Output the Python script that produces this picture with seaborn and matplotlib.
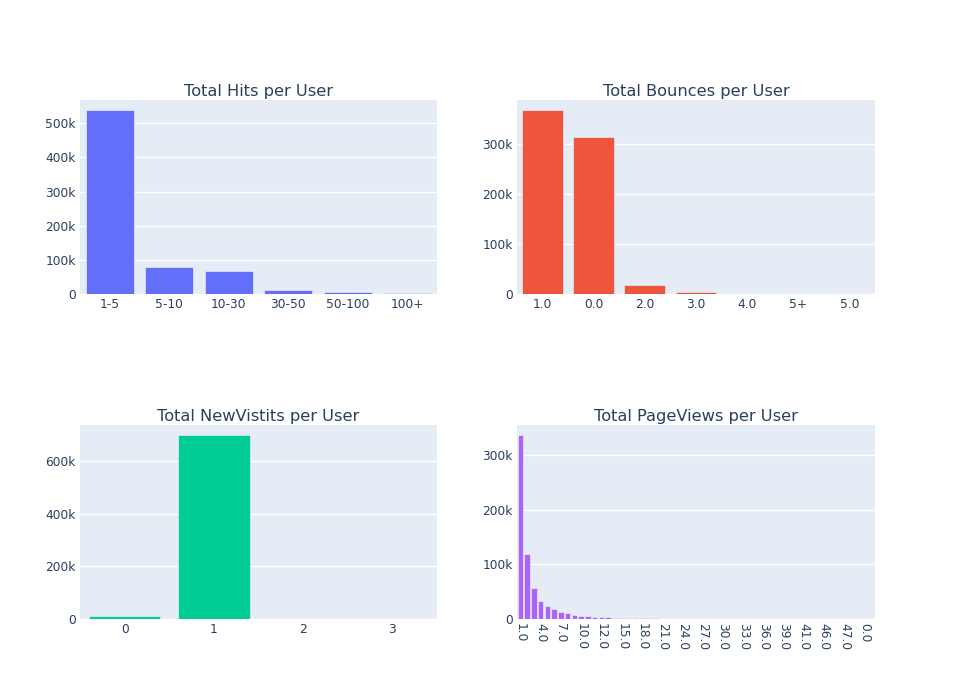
import numpy as np
import pandas as pd
import matplotlib
matplotlib.use("Agg")
import matplotlib.pyplot as plt
import seaborn as sns
from matplotlib.ticker import FuncFormatter

# ---- data ----
hits_cats = ["1-5", "5-10", "10-30", "30-50", "50-100", "100+"]
hits_vals = [539000, 78000, 66000, 11700, 6500, 1500]

bounce_cats = ["1.0", "0.0", "2.0", "3.0", "4.0", "5+", "5.0"]
bounce_vals = [368500, 315000, 19000, 3300, 600, 300, 200]

newvis_cats = ["0", "1", "2", "3"]
newvis_vals = [10000, 700000, 900, 100]

pv_cats = ["1.0", "2.0", "3.0", "4.0", "5.0", "6.0", "7.0", "8.0", "9.0", "10.0",
           "11.0", "13.0", "12.0", "14.0", "16.0", "15.0", "17.0", "19.0", "18.0", "20.0",
           "22.0", "21.0", "23.0", "25.0", "24.0", "26.0", "28.0", "27.0", "29.0", "31.0",
           "30.0", "32.0", "34.0", "33.0", "35.0", "37.0", "36.0", "38.0", "40.0", "39.0",
           "42.0", "43.0", "41.0", "44.0", "45.0", "46.0", "48.0", "49.0", "47.0", "50.0",
           "55.0", "0.0", "100.0"]
pv_vals = [337000, 118500, 56000, 33000, 24000, 17700, 13400, 10400, 7900, 6000,
           4900, 4200, 3600, 3000, 2600, 2200, 1900, 1600, 1400, 1200,
           1050, 900, 800, 700, 620, 550, 480, 420, 370, 330,
           290, 260, 230, 200, 180, 160, 140, 125, 110, 100,
           90, 80, 70, 62, 55, 48, 42, 37, 33, 29,
           25, 22, 18]

titles = ["Total Hits per User", "Total Bounces per User",
          "Total NewVistits per User", "Total PageViews per User"]
colors = ["#636EFA", "#EF553B", "#00CC96", "#AB63FA"]

plt.rcParams["font.family"] = ["DejaVu Sans"]
TXT = "#2a3f5f"
BG = "#E5ECF6"

W, H = 954, 700
fig = plt.figure(figsize=(W / 100, H / 100), dpi=100)
fig.patch.set_facecolor("white")

def frac_axes(x0, y0, x1, y1):
    return fig.add_axes([x0 / W, 1 - y1 / H, (x1 - x0) / W, (y1 - y0) / H])

boxes = [(80, 100, 437, 294), (517, 100, 875, 294),
         (80, 425, 437, 619), (517, 425, 875, 619)]
datasets = [(hits_cats, hits_vals, [0, 100000, 200000, 300000, 400000, 500000]),
            (bounce_cats, bounce_vals, [0, 100000, 200000, 300000]),
            (newvis_cats, newvis_vals, [0, 200000, 400000, 600000]),
            (pv_cats, pv_vals, [0, 100000, 200000, 300000])]

fmt = FuncFormatter(lambda v, p: "0" if v == 0 else f"{int(round(v / 1000))}k")

for i, (box, (cats, vals, yt)) in enumerate(zip(boxes, datasets)):
    ax = frac_axes(*box)
    ax.set_facecolor(BG)
    df = pd.DataFrame({"cat": cats, "val": vals})
    sns.barplot(data=df, x="cat", y="val", order=cats, ax=ax, color=colors[i],
                saturation=1, width=0.8, edgecolor=BG, linewidth=0.5)
    ax.set_xlim(-0.5, len(cats) - 0.5)
    ax.set_ylim(0, max(vals) * 1.054)
    ax.set_yticks(yt)
    ax.yaxis.set_major_formatter(fmt)
    ax.grid(axis="y", color="white", linewidth=1)
    ax.grid(axis="x", visible=False)
    ax.set_axisbelow(True)
    for s in ax.spines.values():
        s.set_visible(False)
    ax.set_xlabel("")
    ax.set_ylabel("")
    ax.tick_params(axis="both", length=0, labelsize=8.8, labelcolor=TXT)
    ax.tick_params(axis="y", pad=3)
    ax.tick_params(axis="x", pad=3)
    ax.set_title(titles[i], fontsize=11.7, color=TXT, pad=3)
    if i == 3:
        idx = list(range(0, len(cats), 3))
        ax.set_xticks(idx)
        ax.set_xticklabels([cats[k] for k in idx], rotation=-90, ha="center", va="top")

fig.savefig("out.png", dpi=100, facecolor="white")
